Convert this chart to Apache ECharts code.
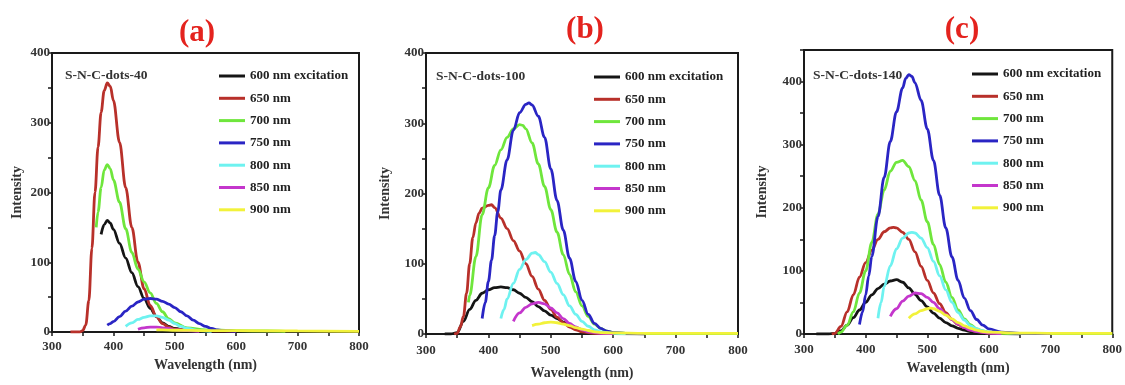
<!DOCTYPE html>
<html>
<head>
<meta charset="utf-8">
<script src="https://cdn.jsdelivr.net/npm/echarts@6/dist/echarts.min.js"></script>
<style>
html,body{margin:0;padding:0;background:#fff;}
#chart{width:1125px;height:385px;}
</style>
</head>
<body>
<div id="chart"></div>
<script>
// ---------- data ----------
const panelTitles = ['(a)', '(b)', '(c)'];
const sampleLabels = ['S-N-C-dots-40', 'S-N-C-dots-100', 'S-N-C-dots-140'];
const seriesNames = ['600 nm excitation', '650 nm', '700 nm', '750 nm', '800 nm', '850 nm', '900 nm'];
const xTicks = [300, 400, 500, 600, 700, 800];
const yTicksAB = [0, 100, 200, 300, 400];
const yTicksC = [0, 100, 200, 300, 400];

// Panel (a) S-N-C-dots-40
const a600 = [[380,140],[385,154],[390,160],[395,156],[400,147],[410,127],[420,106],[430,85],[440,65],[450,48],[460,34],[470,22],[480,13],[490,8],[500,5],[520,2],[550,1],[600,0.5]];
const a650 = [[330,0],[345,0],[350,2],[355,10],[360,45],[365,120],[370,200],[375,265],[380,315],[385,346],[390,357],[395,352],[400,332],[410,272],[420,207],[430,150],[440,100],[450,62],[460,38],[470,22],[480,12],[490,7],[500,4],[520,3],[550,2],[580,1.5],[600,1]];
const a700 = [[372,150],[375,172],[380,207],[385,232],[390,240],[395,234],[400,218],[410,186],[420,148],[430,114],[440,90],[450,72],[460,56],[470,41],[480,29],[490,19],[500,13],[520,6],[550,3],[600,2],[650,1.5],[680,1]];
const a750 = [[390,10],[395,12],[400,15],[410,22],[420,30],[430,37],[440,43],[450,47],[460,48],[470,47],[480,44],[490,40],[500,35],[510,29],[520,23],[530,17],[540,12],[550,8],[560,5],[570,3],[580,2],[600,1]];
const a800 = [[420,8],[430,13],[440,18],[450,21],[460,23],[470,23],[480,21],[490,17],[500,12],[510,8],[520,5],[540,2],[560,1]];
const a850 = [[440,4],[450,6],[460,7],[470,7],[480,6],[490,5],[500,3],[520,2],[540,1]];
const a900 = [[470,3],[480,3],[500,2.5],[550,2],[600,2],[700,1.5],[800,1]];

// Panel (b) S-N-C-dots-100
const b600 = [[330,0],[340,0],[350,2],[360,18],[370,35],[380,48],[390,58],[400,63],[410,66],[420,67],[430,66],[440,63],[450,58],[460,52],[470,46],[480,39],[490,33],[500,27],[510,22],[520,17],[530,13],[540,9],[550,6],[560,4],[580,1.5],[600,0.5],[650,0]];
const b650 = [[345,0],[350,1],[355,10],[360,25],[365,58],[370,100],[375,137],[380,158],[385,172],[390,179],[400,183],[405,184],[410,180],[420,165],[430,150],[440,133],[450,118],[460,100],[470,82],[480,64],[490,48],[500,35],[510,24],[520,16],[530,10],[540,6],[550,3],[570,1],[600,0.5]];
const b700 = [[368,45],[370,55],[380,110],[390,170],[400,208],[410,240],[420,262],[430,280],[440,292],[450,298],[455,297],[460,292],[470,272],[480,242],[490,210],[500,177],[510,145],[520,113],[530,85],[540,60],[550,40],[560,25],[570,14],[580,8],[590,4],[600,2],[620,1],[650,0.5],[700,0.5],[800,0.5]];
const b750 = [[390,22],[395,45],[400,75],[405,105],[410,140],[415,174],[420,205],[430,248],[440,290],[450,315],[460,327],[465,329],[470,326],[480,310],[490,280],[500,235],[510,190],[520,148],[530,108],[540,75],[550,48],[560,28],[570,15],[580,8],[590,4],[600,2],[620,1],[650,0.5]];
const b800 = [[420,22],[425,35],[430,50],[440,72],[450,92],[460,106],[470,115],[475,116],[480,113],[490,103],[500,88],[510,72],[520,56],[530,40],[540,28],[550,18],[560,11],[570,6],[580,3],[600,1],[620,0.5]];
const b850 = [[440,18],[450,30],[460,38],[470,43],[480,45],[490,43],[500,37],[510,30],[520,22],[530,15],[540,10],[550,6],[560,3],[580,1],[600,0.5]];
const b900 = [[470,12],[480,14],[490,16],[500,17],[510,16],[520,14],[530,12],[540,9],[550,7],[560,5],[570,3],[580,2],[600,1.5],[650,1],[700,1],[800,1]];

// Panel (c) S-N-C-dots-140
const c600 = [[320,0],[340,0],[350,1],[360,5],[370,14],[380,26],[390,38],[400,50],[410,62],[420,72],[430,79],[440,84],[450,86],[460,82],[470,73],[480,63],[490,53],[500,43],[510,33],[520,25],[530,18],[540,13],[550,9],[560,6],[570,4],[580,2],[600,1],[650,0]];
const c650 = [[345,0],[350,1],[360,12],[370,35],[380,62],[390,90],[400,113],[410,133],[420,150],[430,162],[440,168],[445,169],[450,168],[460,161],[470,150],[480,130],[490,107],[500,85],[510,65],[520,48],[530,34],[540,23],[550,15],[560,10],[570,6],[580,4],[600,1.5],[650,0.5]];
const c700 = [[355,0],[360,3],[370,14],[380,35],[390,65],[400,100],[410,145],[420,190],[430,228],[440,258],[450,272],[460,275],[470,265],[480,243],[490,212],[500,178],[510,142],[520,110],[530,82],[540,58],[550,38],[560,24],[570,15],[580,8],[590,5],[600,3],[620,1],[650,0.5],[800,0.5]];
const c750 = [[390,15],[395,35],[400,62],[405,92],[410,123],[420,186],[430,248],[440,305],[450,352],[460,390],[465,405],[470,411],[475,408],[480,398],[490,370],[500,325],[510,275],[520,220],[530,168],[540,122],[550,85],[560,57],[570,37],[580,23],[590,14],[600,8],[620,3],[650,1],[700,0.5]];
const c800 = [[420,25],[425,50],[430,75],[440,108],[450,135],[460,152],[470,160],[475,161],[480,160],[490,152],[500,137],[510,115],[520,92],[530,70],[540,50],[550,34],[560,22],[570,13],[580,8],[590,5],[600,3],[620,1]];
const c850 = [[440,28],[450,40],[460,52],[470,60],[480,65],[490,64],[500,58],[510,50],[520,40],[530,31],[540,23],[550,16],[560,10],[570,6],[580,4],[600,1.5],[620,0.5]];
const c900 = [[470,25],[480,32],[490,37],[500,40],[505,41],[510,40],[520,36],[530,30],[540,24],[550,18],[560,13],[570,9],[580,6],[590,4],[600,3],[650,1.5],[700,1],[800,1]];

const panelData = [
  [a600, a650, a700, a750, a800, a850, a900],
  [b600, b650, b700, b750, b800, b850, b900],
  [c600, c650, c700, c750, c800, c850, c900]
];
const yMax = [400, 400, 450];

// ---------- styling ----------
const colors = ['#151515', '#b8302a', '#6fe63c', '#2a25c4', '#6ef2f0', '#c436cc', '#f2f23a'];
const serif = 'Liberation Serif, Times New Roman, serif';
const grids = [
  {left: 52, top: 53, width: 307, height: 279},
  {left: 426, top: 53, width: 312, height: 284},
  {left: 804, top: 50, width: 309, height: 284}
];
const yNameGap = [28, 34, 35];
const xNameGap = [24, 32, 24];
const xLabelMargin = [8, 10, 9];
const titlePos = [{x: 192, y: 12}, {x: 580, y: 9}, {x: 957, y: 9}];
const legendPos = [{left: 214, top: 64}, {left: 589, top: 65}, {left: 967, top: 62}];
const samplePos = [{left: 60, top: 64}, {left: 431, top: 65}, {left: 808, top: 64}];

const tickLabel = {
  fontFamily: serif, fontWeight: 'bold', fontSize: 13, color: '#333', margin: 4,
  formatter: v => (v % 100 === 0 ? String(v) : '')
};

const option = {
  animation: false,
  backgroundColor: '#fff',
  title: [],
  legend: [],
  grid: [],
  xAxis: [],
  yAxis: [],
  series: []
};

for (let p = 0; p < 3; p++) {
  option.title.push({
    text: panelTitles[p], left: titlePos[p].x, top: titlePos[p].y, textAlign: 'center',
    textStyle: {fontFamily: serif, fontWeight: 'bold', fontSize: 31, color: '#e4231e'}
  });
  option.title.push({
    text: sampleLabels[p], left: samplePos[p].left, top: samplePos[p].top,
    textStyle: {fontFamily: serif, fontWeight: 'bold', fontSize: 13.5, color: '#333'}
  });
  option.grid.push(Object.assign({show: true, borderColor: '#1a1a1a', borderWidth: 2, backgroundColor: 'transparent'}, grids[p]));
  option.xAxis.push({
    type: 'value', gridIndex: p, min: 300, max: 800, interval: 50,
    name: 'Wavelength (nm)', nameLocation: 'middle', nameGap: xNameGap[p],
    nameTextStyle: {fontFamily: serif, fontWeight: 'bold', fontSize: 14, color: '#333'},
    axisLine: {lineStyle: {color: '#1a1a1a', width: 2}},
    axisTick: {show: true, length: 4, lineStyle: {color: '#1a1a1a', width: 1.5}},
    axisLabel: Object.assign({}, tickLabel, {margin: xLabelMargin[p]}),
    splitLine: {show: false}
  });
  option.yAxis.push({
    type: 'value', gridIndex: p, min: 0, max: yMax[p], interval: 50,
    name: 'Intensity', nameLocation: 'middle', nameGap: yNameGap[p],
    nameTextStyle: {fontFamily: serif, fontWeight: 'bold', fontSize: 14, color: '#333'},
    axisLine: {lineStyle: {color: '#1a1a1a', width: 2}},
    axisTick: {show: true, length: 4, lineStyle: {color: '#1a1a1a', width: 1.5}},
    axisLabel: Object.assign({}, tickLabel, {margin: 2}),
    splitLine: {show: false}
  });
  option.legend.push({
    orient: 'vertical', left: legendPos[p].left, top: legendPos[p].top,
    icon: 'rect', itemWidth: 26, itemHeight: 3, itemGap: 8.3,
    data: seriesNames,
    selectedMode: false,
    textStyle: {fontFamily: serif, fontWeight: 'bold', fontSize: 13, lineHeight: 14, color: '#222'}
  });
  for (let s = 0; s < 7; s++) {
    option.series.push({
      type: 'line', name: seriesNames[s], xAxisIndex: p, yAxisIndex: p,
      data: panelData[p][s], smooth: 0.35, smoothMonotone: 'x',
      symbol: 'none', showSymbol: false,
      lineStyle: {color: colors[s], width: 2.8},
      itemStyle: {color: colors[s]},
      z: 2
    });
  }
}

const chart = echarts.init(document.getElementById('chart'), null, {renderer: 'canvas'});
chart.setOption(option);
</script>
</body>
</html>
